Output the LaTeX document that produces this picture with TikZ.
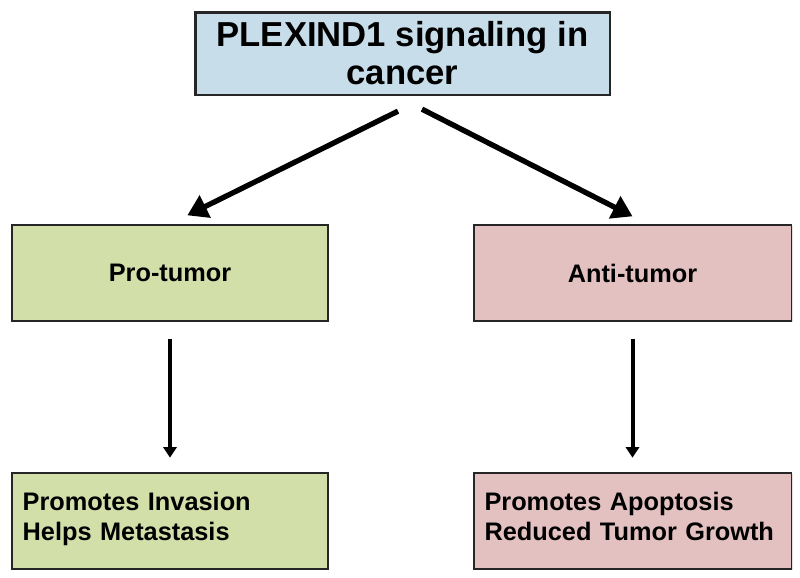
\documentclass[tikz,border=0pt]{standalone}
\usepackage{fontspec}
\setmainfont{Liberation Sans}
\usepackage{tikz}
\usetikzlibrary{arrows.meta,shadows}

\definecolor{plexblue}{RGB}{199,221,234}
\definecolor{progreen}{RGB}{211,223,168}
\definecolor{antipink}{RGB}{228,193,193}

\begin{document}
\begin{tikzpicture}[x=0.75pt,y=-0.75pt,
    box/.style={draw=black!85,line width=1pt,inner sep=0pt,
        drop shadow={shadow xshift=1pt,shadow yshift=-1pt,opacity=0.25},
        font=\bfseries\fontsize{19}{22.5}\selectfont},
    effect/.style={box,text width=221pt,inner xsep=8pt,align=left,
        minimum height=72pt}]
\useasboundingbox (0,0) rectangle (800,578);
\begin{scope}[>={Triangle[length=15pt,width=18pt]}]

    \node[box,fill=plexblue,line width=2pt,minimum width=311pt,
        minimum height=62pt,align=center,
        font=\bfseries\fontsize{26}{28.5}\selectfont]
        (plex) at (402.5,53.5) {PLEXIND1 signaling in\\cancer};

    \node[box,fill=progreen,minimum width=237pt,minimum height=72pt]
        (pro) at (170,273) {Pro-tumor};
    \node[box,fill=antipink,minimum width=238pt,minimum height=72pt]
        (anti) at (632.5,273) {Anti-tumor};

    \node[effect,fill=progreen] (proeff) at (170,521)
        {Promotes Invasion\\Helps Metastasis\strut};
    \node[effect,fill=antipink,text width=222pt] (antieff) at (632.5,521)
        {Promotes Apoptosis\\Reduced Tumor Growth\strut};

    \draw[->,line width=4pt] ([shift={(-4.5,15)}]plex.south)
        -- ([shift={(176,-9)}]pro.north west);
    \draw[->,line width=4pt] ([shift={(19.5,13)}]plex.south)
        -- ([shift={(0,-8)}]anti.north);

    \draw[-{Triangle[length=8pt,width=10pt]},line width=3pt,
        shorten <=12.75pt,shorten >=11pt] (pro) -- (proeff);
    \draw[-{Triangle[length=8pt,width=10pt]},line width=3pt,
        shorten <=12.75pt,shorten >=11pt] (anti) -- (antieff);

\end{scope}
\end{tikzpicture}
\end{document}
